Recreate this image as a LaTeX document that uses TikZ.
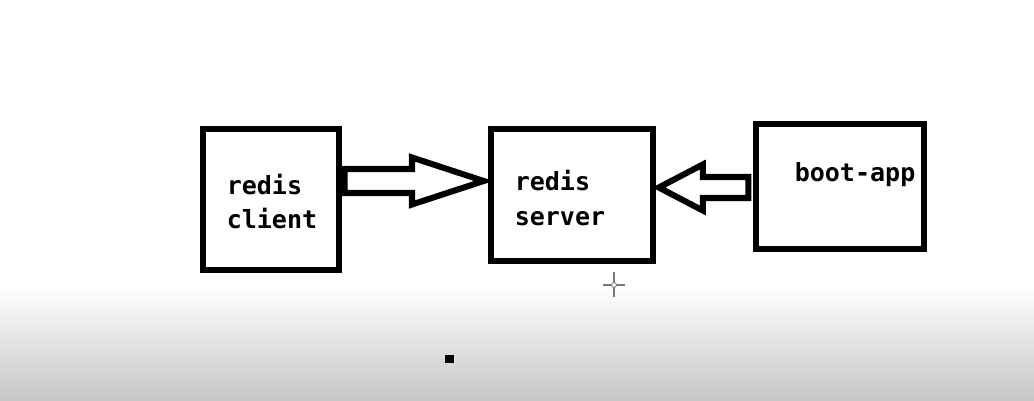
\documentclass[tikz,border=0pt]{standalone}
\usepackage{fontspec}
\usepackage{tikz}
\usetikzlibrary{positioning,calc}
\newfontfamily\monofont{DejaVu Sans Mono}
\newcommand{\labelfont}{\monofont\bfseries\fontsize{17.8}{24.2}\selectfont}
\definecolor{bottomgray}{RGB}{197,198,200}
\definecolor{cursorgray}{RGB}{120,120,120}
\tikzstyle{box} = [draw=black, line width=4.3pt, inner sep=0pt]
\tikzstyle{fatarrow} = [draw=black, line width=4.3pt, line join=miter]
\tikzstyle{boxtext} = [font=\labelfont, align=left, inner sep=0pt, anchor=base west]

\begin{document}
\begin{tikzpicture}[x=0.025cm, y=-0.025cm]
    \useasboundingbox (0,0) rectangle (1034,401);
    \fill[white] (0,0) rectangle (1034,401);
    \shade[top color=white, bottom color=bottomgray] (0,285) rectangle (1034,401);
    \node[box, minimum width=3.39cm, minimum height=3.52cm] (client) at (270.85,199.35) {};
    \node[box, minimum width=4.05cm, minimum height=3.31cm] (server) at (571.75,195.15) {};
    \node[box, minimum width=4.2cm, minimum height=3.12cm] (boot) at (840.4,186.35) {};
    \node[boxtext] (clienttext) at (226.5,228.3) {redis\\client};
    \node[boxtext] (servertext) at (514.5,225) {redis\\server};
    \node[boxtext] (boottext) at (794.5,181.7) {boot-app};
    \coordinate (ca) at (client.east |- 0,181);
    \coordinate (sa) at (server.west |- 0,181);
    \coordinate (bb) at (boot.west |- 0,187.5);
    \coordinate (sb) at (server.east |- 0,187.5);
    \draw[fatarrow] ($(ca)+(3,-12)$) -- ($(sa)+(-75.7,-12)$) -- ($(sa)+(-75.7,-23.5)$) -- ($(sa)+(-4,0)$)
        -- ($(sa)+(-75.7,23.5)$) -- ($(sa)+(-75.7,12)$) -- ($(ca)+(3,12)$) -- cycle;
    \draw[fatarrow] ($(bb)+(-5,-10.5)$) -- ($(sb)+(47,-10.5)$) -- ($(sb)+(47,-23)$) -- ($(sb)+(3,0)$)
        -- ($(sb)+(47,23)$) -- ($(sb)+(47,10.5)$) -- ($(bb)+(-5,10.5)$) -- cycle;
    % cursor and dot
    \draw[cursorgray, line width=0.9pt] (603,285) -- (625,285) (614,272) -- (614,297);
    \draw[cursorgray, fill=white, line width=0.6pt] (614,285) circle (2.5);
    \fill[black] (445,355) rectangle (454,363);
\end{tikzpicture}
\end{document}
